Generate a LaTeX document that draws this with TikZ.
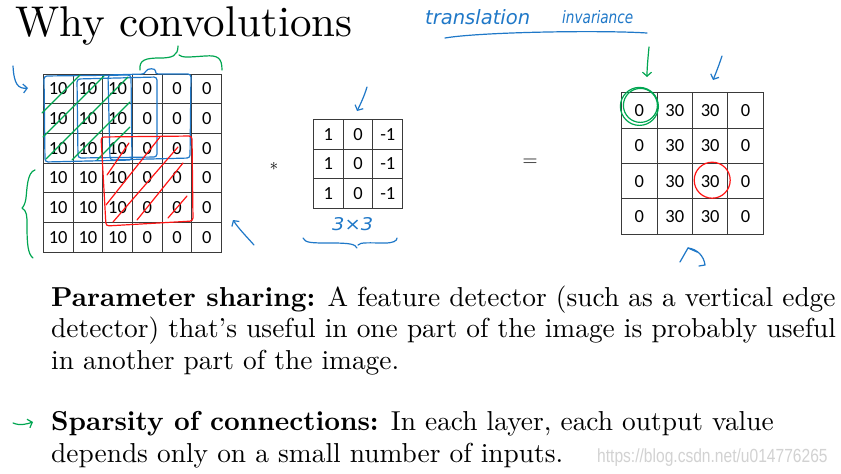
\documentclass[tikz,border=0pt]{standalone}
\usepackage{fontspec}
\usepackage{xcolor}
\usepackage{tikz}
\usetikzlibrary{arrows.meta}
\setmainfont{lmroman10-regular}[Extension=.otf,BoldFont=lmroman10-bold,ItalicFont=lmroman10-italic]
\newfontfamily\cellfont{Carlito}
\newfontfamily\penfont{DejaVu Sans}
\newfontfamily\webfont{Liberation Sans}
\definecolor{WCInk}{HTML}{1F78C8}
\definecolor{WCGreen}{HTML}{00A651}
\definecolor{WCRed}{HTML}{FF1414}
\definecolor{WCGrid}{HTML}{3A3A3A}
\definecolor{WCMark}{HTML}{D2D2D2}

\begin{document}
\begin{tikzpicture}[x=1pt,y=-1pt,
  cell/.style={draw=WCGrid,line width=.9pt,minimum size=29.7pt,inner sep=0pt,
    font=\cellfont\fontsize{18.5}{18.5}\selectfont},
  outcell/.style={cell,minimum size=35.4pt},
  pen/.style={line width=1.2pt,line cap=round,line join=round},
  barb/.style={-{Straight Barb[length=4pt,width=9pt]}},
  line/.style={anchor=base west,inner sep=0pt,font=\fontsize{27.4}{32}\selectfont}]
\path[use as bounding box] (0,0) rectangle (841,474);
\fill[white] (0,0) rectangle (841,474);
\node[anchor=base west,inner sep=0pt,font=\fontsize{43}{43}\selectfont] (title) at (15,36.7) {Why convolutions};
% input image, filter, output
\foreach \r in {0,...,5}
  \foreach \v [count=\c from 0] in {10,10,10,0,0,0}
    \node[cell] (in-\r-\c) at (58.2+29.7*\c,88.9+29.7*\r) {\v};
\foreach \r in {0,1,2}
  \foreach \v [count=\c from 0] in {1,0,-1}
    \node[cell,minimum size=29.8pt] (ker-\r-\c) at (328.2+29.8*\c,134.2+29.8*\r) {\v};
\foreach \r in {0,...,3}
  \foreach \v [count=\c from 0] in {0,30,30,0}
    \node[outcell] (out-\r-\c) at (639.4+35.4*\c,110.4+35.4*\r) {\v};
\node[font=\fontsize{18}{18}\selectfont] (conv) at (274,166) {$\ast$};
\node[font=\fontsize{20}{20}\selectfont] (eq) at (530,163) {$=$};
% pen notes, input side
\draw[pen,WCInk,barb] (13,66) .. controls (14,84) and (18,89) .. (28,88);
\draw[pen,WCGreen] (140,70) .. controls (139,60) and (145,58) .. (160,58) .. controls (172,58) and (178,56) .. (178,46);
\draw[pen,WCGreen] (179,55) .. controls (182,58) and (190,57) .. (205,56) .. controls (218,55) and (222,58) .. (222,70);
\draw[pen,WCInk,rounded corners=3pt] (44,76) -- (131,75) -- (132,160) -- (45,162) -- cycle;
\draw[pen,WCInk,rounded corners=3pt] (77,79) -- (157,77) -- (157,157) -- (78,158) -- cycle;
\draw[pen,WCInk,rounded corners=3pt] (108,75) -- (145,74) .. controls (147,68) and (156,68) .. (155,74) -- (191,74) -- (190,158) -- (110,160) -- cycle;
\draw[pen,WCGreen] (42,113) -- (80,75);
\draw[pen,WCGreen] (43,137) -- (104,76);
\draw[pen,WCGreen] (46,159) -- (128,77);
\draw[pen,WCGreen] (72,160) -- (130,102);
\draw[pen,WCGreen] (97,160) -- (130,127);
\draw[pen,WCRed,rounded corners=3pt] (101,137) -- (192,136) -- (193,221) -- (106,226) -- cycle;
\draw[pen,WCRed] (107,175) -- (129,143);
\draw[pen,WCRed] (106,205) -- (160,137);
\draw[pen,WCRed] (113,222) -- (178,147);
\draw[pen,WCRed] (137,220) -- (183,163);
\draw[pen,WCRed] (168,218) -- (187,196);
\draw[pen,WCGreen] (35,170) .. controls (27,172) and (27,190) .. (26,198) .. controls (25,205) and (23,207) .. (22,208) .. controls (27,211) and (27,216) .. (27,225) .. controls (27,245) and (28,254) .. (33,258);
\draw[pen,WCInk,barb] (254,245) .. controls (246,236) and (239,229) .. (233,220);
% pen notes, filter
\draw[pen,WCInk,barb] (367,87) .. controls (364,97) and (360,105) .. (357,111);
\node[anchor=base west,text=WCInk,inner sep=0pt,font=\penfont\itshape\fontsize{13}{13}\selectfont] (size) at (332,230) {\resizebox{41pt}{13pt}{3×3}};
\draw[pen,WCInk] (303,238) .. controls (305,243) and (312,243) .. (330,243) .. controls (350,243) and (355,244) .. (357,248);
\draw[pen,WCInk] (358,245) .. controls (360,242) and (370,243) .. (385,243) .. controls (393,243) and (397,241) .. (397,238);
% pen notes, output
\node[anchor=base west,text=WCInk,inner sep=0pt,font=\penfont\itshape\fontsize{15}{15}\selectfont] (trans) at (425,24) {\resizebox{105pt}{15pt}{translation}};
\node[anchor=base west,text=WCInk,inner sep=0pt,font=\penfont\itshape\fontsize{15}{15}\selectfont] (inv) at (562,23) {\resizebox{71pt}{13pt}{invariance}};
\draw[pen,WCInk] (445,38) .. controls (480,32) and (600,30) .. (647,33);
\draw[pen,WCGreen,barb] (649,47) .. controls (648,58) and (647,68) .. (647,77);
\draw[pen,WCInk,barb] (722,56) .. controls (719,65) and (716,73) .. (713,80);
\draw[pen,WCGreen] ([yshift=4pt]out-0-0.center) circle[radius=19pt];
\draw[pen,WCGreen] ([xshift=1pt,yshift=5pt]out-0-0.center) circle[radius=17pt];
\draw[pen,WCRed] ([xshift=2pt,yshift=1pt]out-2-2.center) circle[radius=18pt];
\draw[pen,WCInk] (697,252) -- (688,248) -- (680,262);
\draw[pen,WCInk] (688,248) .. controls (697,249) and (704,256) .. (705,265) -- (699,266);
% text
\node[line] (share-1) at (51,306) {\textbf{Parameter sharing:} A feature detector (such as a vertical edge};
\node[line] (share-2) at (51,337) {detector) that's useful in one part of the image is probably useful};
\node[line] (share-3) at (51,369) {in another part of the image.};
\draw[pen,WCGreen,barb] (13,423) .. controls (20,426) and (27,424) .. (33,422);
\node[line] (sparse-1) at (51,430) {\textbf{Sparsity of connections:} In each layer, each output value};
\node[line] (sparse-2) at (51,462) {depends only on a small number of inputs.};
\node[anchor=base west,inner sep=0pt,text=WCMark,font=\webfont\fontsize{19}{19}\selectfont] (mark) at (597,462) {\scalebox{.82}[1]{https://blog.csdn.net/u014776265}};
\end{tikzpicture}
\end{document}
